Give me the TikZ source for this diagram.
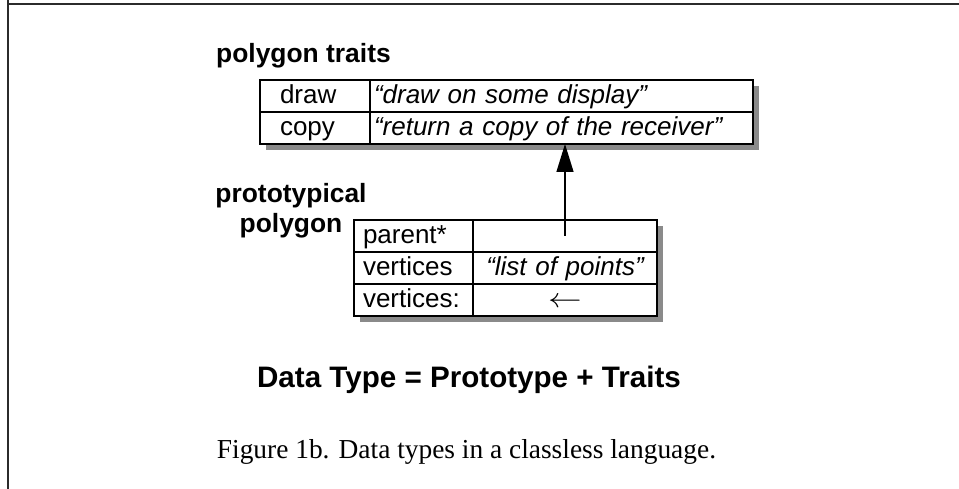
\documentclass[tikz,border=0pt]{standalone}
\usepackage{fontspec}
\setmainfont{Liberation Serif}
\newfontfamily\helv{Liberation Sans}
\usetikzlibrary{positioning,arrows.meta,backgrounds}
\definecolor{framegray}{HTML}{2B2B2B}
\definecolor{shadegray}{HTML}{8A8A8A}
\tikzset{
  slot/.style={draw, fill=white, line width=1.3pt, outer sep=0pt, inner ysep=0pt,
    minimum height=32pt, text height=20pt, text depth=4pt, font=\fontsize{26}{30}\helv},
  tkey/.style={slot, text width=70pt, inner xsep=20pt, align=left},
  tval/.style={slot, text width=375pt, inner xsep=4pt, align=left,
    font=\fontsize{26}{30}\helv\itshape},
  pkey/.style={slot, text width=101pt, inner xsep=9pt, align=left},
  pval/.style={slot, text width=176pt, inner xsep=4pt, align=center,
    font=\fontsize{26}{30}\helv\itshape},
  tag/.style={inner sep=0pt, font=\fontsize{26.4}{30}\helv\bfseries},
  frame/.style={draw=framegray, line width=2pt},
  link/.style={line width=1.3pt, -{Triangle[length=28pt, width=17pt]}}
}
\begin{document}
\begin{tikzpicture}[x=1pt, y=-1pt]
    \useasboundingbox (0,0) rectangle (959,489);
    \draw[frame] (7.5,0) -- (7.5,489);
    \draw[frame] (7.5,4) -- (959,4);
    % traits object
    \node[tag, anchor=base west] (trlbl) at (216,63) {polygon traits};
    \node[tkey, anchor=north west] (trdraw) at (260,80) {draw};
    \node[tval, right=0pt of trdraw] (trdrawv) {“draw on some display”};
    \node[tkey, below=0pt of trdraw] (trcopy) {copy};
    \node[tval, below=0pt of trdrawv] (trcopyv) {“return a copy of the receiver”};
    % prototype object
    \node[tag, align=center] (prlbl) at (291,211) {prototypical\\polygon};
    \node[pkey, anchor=north west] (ppar) at (354,220) {parent*};
    \node[pval, right=0pt of ppar] (pparv) {};
    \node[pkey, below=0pt of ppar] (pvert) {vertices};
    \node[pval, below=0pt of pparv] (pvertv) {“list of points”};
    \node[pkey, below=0pt of pvert] (pset) {vertices:};
    \node[pval, below=0pt of pvertv, font=\fontsize{26}{30}\helv] (psetv) {\scalebox{1.35}[1.1]{$\leftarrow$}};
    \begin{scope}[on background layer]
        \fill[shadegray] ([shift={(6,6)}]trdraw.north west) rectangle ([shift={(6,6)}]trcopyv.south east);
        \fill[shadegray] ([shift={(6,6)}]ppar.north west) rectangle ([shift={(6,6)}]psetv.south east);
    \end{scope}
    \draw[link] (pparv.center) -- (pparv.center |- trcopyv.south);
    \node[inner sep=0pt, anchor=base, font=\fontsize{29.6}{34}\helv\bfseries] (eqn) at (469,387) {Data Type = Prototype + Traits};
    \node[inner sep=0pt, anchor=base, font=\fontsize{27.4}{32}\selectfont] (cap) at (466.5,458) {Figure 1b. Data types in a classless language.};
\end{tikzpicture}
\end{document}
